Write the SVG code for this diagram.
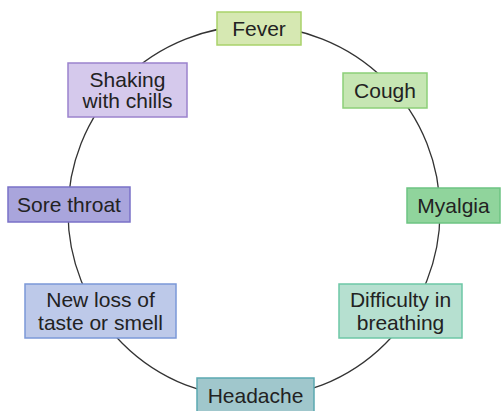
<svg xmlns="http://www.w3.org/2000/svg" width="501" height="411" viewBox="0 0 501 411">
<style>
.t{font-family:"Liberation Sans",Arial,sans-serif;font-size:21px;fill:#222;text-anchor:middle}
rect{stroke-width:1.5}
</style>
<rect width="501" height="411" fill="#fff"/>
<g id="connectors">
<circle cx="254" cy="212" r="186" fill="none" stroke="#333" stroke-width="1.3"/>
</g>
<g id="fever"><rect x="217" y="12" width="84" height="33" fill="#d6e8b2" stroke="#a9d26a"/><text class="t" x="259" y="36">Fever</text></g>
<g id="cough"><rect x="343" y="73" width="84" height="35" fill="#c6e6b3" stroke="#8ccf78"/><text class="t" x="385" y="98">Cough</text></g>
<g id="myalgia"><rect x="407" y="188" width="93" height="35" fill="#90d49c" stroke="#6cc482"/><text class="t" x="453.5" y="213">Myalgia</text></g>
<g id="difficulty"><rect x="339" y="284" width="123" height="54" fill="#b6e0d0" stroke="#6dc7a6"/><text class="t" x="400.5" y="307">Difficulty in</text><text class="t" x="400.5" y="330">breathing</text></g>
<g id="headache"><rect x="197" y="378" width="117" height="40" fill="#a0c7cc" stroke="#5ba9b1"/><text class="t" x="255.5" y="403">Headache</text></g>
<g id="newloss"><rect x="25" y="284" width="151" height="54" fill="#bdc9e9" stroke="#7b98d8"/><text class="t" x="100.5" y="307">New loss of</text><text class="t" x="100.5" y="330">taste or smell</text></g>
<g id="sorethroat"><rect x="8" y="187" width="122" height="35" fill="#a9a5dc" stroke="#7a71c8"/><text class="t" x="69" y="212">Sore throat</text></g>
<g id="shaking"><rect x="68" y="63" width="119" height="54" fill="#d5c9ec" stroke="#9b82cd"/><text class="t" x="127.5" y="87">Shaking</text><text class="t" x="127.5" y="108">with chills</text></g>
</svg>
